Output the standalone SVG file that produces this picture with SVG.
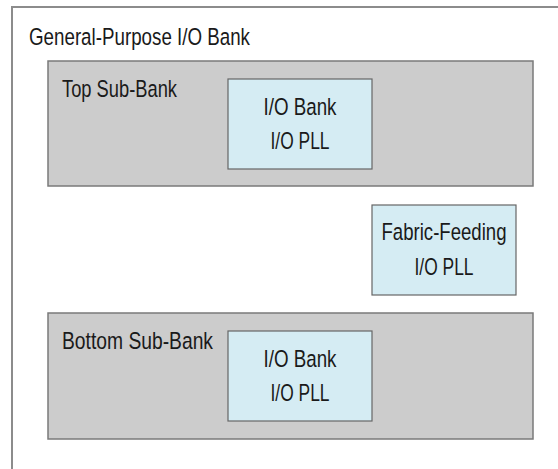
<svg xmlns="http://www.w3.org/2000/svg" width="558" height="469" viewBox="0 0 558 469">
  <style>
    .bank { fill: #ffffff; stroke: #8c8c8c; stroke-width: 2; }
    .sub { fill: #cccccc; stroke: #7a7a7a; stroke-width: 1.5; }
    .pll { fill: #d5ecf3; stroke: #666666; stroke-width: 1.2; }
    text { font-family: "Liberation Sans Narrow", "Liberation Sans", "DejaVu Sans Condensed", sans-serif; font-size: 24.5px; fill: #1a1a1a; }
    .c { text-anchor: middle; }
  </style>
  <rect width="558" height="469" fill="#ffffff"/>

  <!-- enclosing bank, continues past the right and bottom edges -->
  <g id="gp-bank">
    <rect class="bank" x="12" y="7" width="580" height="500"/>
    <text x="29" y="45" textLength="221" lengthAdjust="spacingAndGlyphs">General-Purpose I/O Bank</text>
  </g>

  <g id="top-sub-bank">
    <rect class="sub" x="48" y="61" width="485" height="125"/>
    <text x="62" y="97" textLength="115" lengthAdjust="spacingAndGlyphs">Top Sub-Bank</text>
  </g>
  <g id="top-io-pll">
    <rect class="pll" x="228" y="79" width="144" height="90"/>
    <text class="c" x="300" y="115" textLength="73" lengthAdjust="spacingAndGlyphs">I/O Bank</text>
    <text class="c" x="300" y="149" textLength="59" lengthAdjust="spacingAndGlyphs">I/O PLL</text>
  </g>

  <g id="fabric-feeding-pll">
    <rect class="pll" x="372" y="205" width="144" height="90"/>
    <text class="c" x="444" y="240" textLength="125" lengthAdjust="spacingAndGlyphs">Fabric-Feeding</text>
    <text class="c" x="444" y="275" textLength="59" lengthAdjust="spacingAndGlyphs">I/O PLL</text>
  </g>

  <g id="bottom-sub-bank">
    <rect class="sub" x="48" y="313" width="485" height="126"/>
    <text x="62" y="349" textLength="151" lengthAdjust="spacingAndGlyphs">Bottom Sub-Bank</text>
  </g>
  <g id="bottom-io-pll">
    <rect class="pll" x="228" y="331" width="144" height="90"/>
    <text class="c" x="300" y="367" textLength="73" lengthAdjust="spacingAndGlyphs">I/O Bank</text>
    <text class="c" x="300" y="401" textLength="59" lengthAdjust="spacingAndGlyphs">I/O PLL</text>
  </g>

  <g id="connectors"/>
</svg>
